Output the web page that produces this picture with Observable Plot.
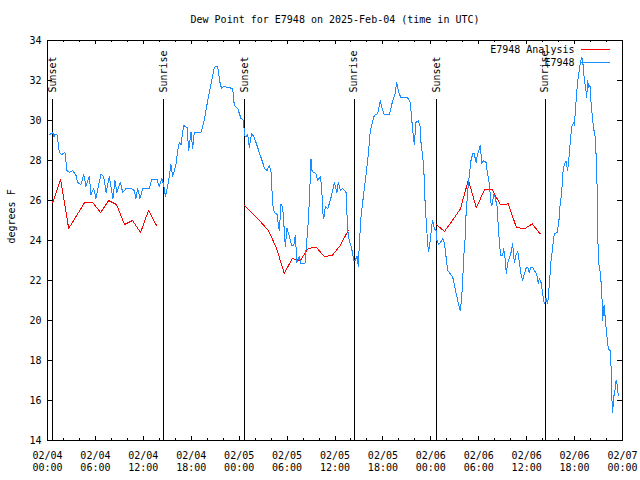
<!DOCTYPE html>
<html>
<head>
<meta charset="utf-8">
<script src="https://cdn.jsdelivr.net/npm/d3@7"></script>
<script src="https://cdn.jsdelivr.net/npm/@observablehq/plot@0.6"></script>
<style>
  html, body { margin: 0; padding: 0; background: #fff; }
</style>
</head>
<body>
<div id="chart"></div>
<script>
// ---- data (hours after 2025-02-04 00:00 UTC) ----
const title = "Dew Point for E7948 on 2025-Feb-04 (time in UTC)";
const yLabel = "degrees F";
const seriesNames = ["E7948 Analysis", "E7948"];
const seriesColors = ["#ff0000", "#1a8cff"];

const obsHours = [0.23,0.65,0.81,0.94,1.19,1.48,1.78,2.19,2.44,2.73,3.16,3.57,3.78,4.19,4.53,4.82,5.23,5.45,5.79,6.07,6.36,6.70,7.04,7.33,7.74,7.95,8.20,8.45,8.70,9.12,9.42,9.83,10.46,10.87,11.08,11.29,11.58,11.92,12.75,13.05,13.71,14.0,14.30,14.55,14.75,15.05,15.46,15.68,16.09,16.30,16.50,16.72,17.05,17.47,17.68,17.97,18.18,18.38,19.22,19.63,20.06,20.47,20.89,21.31,21.64,21.81,22.04,23.19,23.39,23.82,24.23,24.57,24.64,24.86,25.07,25.27,25.57,25.82,26.11,26.52,26.95,27.15,27.49,27.77,27.99,28.20,28.40,28.74,28.90,29.03,29.24,29.45,29.65,29.78,29.99,30.28,30.58,30.83,31.03,31.24,31.53,31.74,32.24,32.37,32.58,32.78,32.99,33.12,33.33,33.62,33.83,34.16,34.34,34.46,34.59,34.79,35.09,35.41,35.71,35.91,36.25,36.41,36.66,36.96,37.38,37.59,37.79,38.09,38.34,38.51,38.76,38.92,39.04,39.26,39.67,40.10,40.42,40.92,41.35,41.67,41.97,42.17,42.80,43.23,43.51,43.73,43.98,44.27,45.10,45.43,45.60,45.73,45.93,46.14,46.43,46.68,46.77,46.98,47.11,47.27,47.40,47.61,47.73,47.93,48.11,48.23,48.43,48.65,48.77,48.99,49.19,49.49,49.69,49.90,50.11,50.44,50.74,50.94,51.15,51.37,51.57,51.69,51.87,51.99,52.12,52.28,52.41,52.62,52.82,53.03,53.24,53.44,53.66,53.87,54.07,54.20,54.37,54.62,54.91,55.12,55.32,55.53,55.66,55.87,56.03,56.28,56.45,56.62,56.78,56.99,57.12,57.29,57.45,57.63,57.83,58.04,58.25,58.45,58.66,58.88,59.08,59.29,59.50,59.70,59.92,60.13,60.33,60.54,60.76,60.96,61.26,61.46,61.58,61.80,62.01,62.21,62.42,62.63,62.83,63.05,63.26,63.46,63.80,64.01,64.18,64.39,64.51,64.71,64.93,65.14,65.34,65.47,65.64,65.89,65.99,66.09,66.27,66.39,66.59,66.72,66.89,67.02,67.14,67.34,67.52,67.64,67.77,67.93,68.06,68.27,68.39,68.56,68.77,68.89,68.97,69.22,69.40,69.52,69.65,69.72,69.81,69.94,70.06,70.22,70.47,70.56,70.65,70.77,70.90,71.06,71.19,71.31,71.48];
const obsDew = [29.28,29.4,29.2,29.3,29.3,28.4,28.3,28.4,27.5,27.4,27.5,27.25,26.9,26.8,27.3,26.7,27.2,26.3,26.6,26.1,26.7,27.3,27.2,26.4,27.2,26.7,26.1,27.0,26.4,26.9,26.4,26.6,26.6,26.5,26.1,26.6,26.1,26.6,26.6,27.05,27.05,26.7,27.1,26.8,26.2,26.7,27.8,27.2,27.8,28.5,28.9,28.8,29.75,29.65,28.5,29.4,28.6,29.4,29.4,30.0,31.0,31.8,32.67,32.7,31.8,31.6,31.7,31.6,30.75,30.6,30.1,30.0,29.25,29.2,29.3,28.67,29.35,29.2,28.9,28.4,27.9,27.6,27.5,27.75,27.4,25.8,25.4,25.3,24.8,24.5,25.8,25.65,24.5,23.7,24.6,24.2,23.75,23.75,24.25,22.9,23.2,22.83,22.83,23.5,24.5,25.9,28.08,27.5,27.4,27.35,27.0,27.2,26.6,25.4,25.1,25.7,25.6,26.0,26.5,26.9,26.4,26.9,26.5,26.6,26.4,24.5,24.0,23.6,23.0,23.0,23.2,22.7,23.75,25.2,26.6,28.0,29.5,30.25,30.35,31.0,30.5,30.3,30.3,31.0,31.3,31.9,31.4,31.13,31.13,30.9,30.1,29.5,28.8,29.9,30.0,29.7,28.9,28.2,27.67,26.0,25.1,23.8,23.45,24.0,24.75,25.0,24.6,24.5,24.0,23.8,23.9,24.08,23.9,23.2,22.5,22.33,22.17,21.8,21.4,21.0,20.67,20.5,21.2,22.0,23.2,24.0,25.3,26.5,27.3,28.0,28.33,28.33,27.9,28.33,28.58,28.75,27.85,28.0,27.9,27.3,26.83,25.9,25.75,26.3,26.17,25.75,24.67,23.67,23.25,23.25,23.6,23.1,22.33,22.9,23.1,23.4,23.83,22.9,23.25,23.47,22.9,22.33,22.0,22.33,22.6,22.67,22.4,22.67,22.67,22.5,22.33,21.83,22.1,21.9,21.33,20.83,21.1,20.83,21.75,23.0,23.67,24.33,24.4,24.83,25.75,26.4,27.3,27.8,27.95,27.5,28.33,29.0,29.67,29.9,29.75,30.5,31.4,32.0,32.5,32.9,33.17,33.0,32.33,31.75,31.17,32.0,31.67,31.75,30.9,30.0,29.6,29.2,27.75,24.83,23.0,22.4,21.5,20.0,20.67,20.75,20.25,19.67,19.17,18.58,18.5,17.75,16.25,15.42,16.17,16.5,17.0,16.83,16.25];

const anaHours = [0.65,1.65,2.65,3.65,4.65,5.65,6.65,7.65,8.65,9.65,10.65,11.65,12.65,13.65,
                  24.65,25.65,26.65,27.65,28.65,29.65,30.65,31.65,32.65,33.65,34.65,35.65,36.65,37.65,
                  48.7,49.7,50.7,51.7,52.7,53.7,54.7,55.7,56.7,57.7,58.7,59.7,60.7,61.7];
const anaNight = [1,1,1,1,1,1,1,1,1,1,1,1,1,1,
                  2,2,2,2,2,2,2,2,2,2,2,2,2,2,
                  3,3,3,3,3,3,3,3,3,3,3,3,3,3];
const anaDew = [25.9,27.05,24.6,25.25,25.9,25.9,25.4,26.0,25.8,24.8,25.0,24.4,25.5,24.75,
                25.75,25.35,24.95,24.5,23.65,22.35,23.1,23.0,23.6,23.67,23.2,23.25,23.75,24.5,
                24.8,24.45,25.0,25.58,27.03,25.63,26.53,26.53,25.8,25.83,24.67,24.58,24.83,24.33];

const eventHours = [0.65, 14.5, 24.65, 38.4, 48.7, 62.3];
const eventLabels = ["Sunset", "Sunrise", "Sunset", "Sunrise", "Sunset", "Sunrise"];

const majorTickHours = [0,6,12,18,24,30,36,42,48,54,60,66,72];
const minorTickHours = [2,4,8,10,14,16,20,22,26,28,32,34,38,40,44,46,50,52,56,58,62,64,68,70];
const yTicks = [14,16,18,20,22,24,26,28,30,32,34];

// ---- build tables ----
const base = Date.UTC(2025, 1, 4);
const toDate = h => new Date(base + h * 3600e3);
const obs = obsHours.map((h, i) => ({t: toDate(h), v: obsDew[i]}));
const ana = anaHours.map((h, i) => ({t: toDate(h), v: anaDew[i], n: anaNight[i]}));
const events = eventHours.map((h, i) => ({t: toDate(h), label: eventLabels[i]}));
const majors = majorTickHours.map(toDate);
const minors = minorTickHours.map(toDate);

const W = 640, H = 480, mL = 47, mR = 18, mT = 40, mB = 40;
const innerW = W - mL - mR, innerH = H - mT - mB;
const fmt = d3.utcFormat("%m/%d\n%H:%M");

const chart = Plot.plot({
  width: W, height: H,
  marginLeft: mL, marginRight: mR, marginTop: mT, marginBottom: mB,
  style: {fontFamily: "'DejaVu Sans Mono', monospace", fontSize: "10px", background: "#fff", color: "#000"},
  x: {type: "utc", domain: [toDate(0), toDate(72)], axis: null},
  y: {domain: [14, 34], axis: null},
  marks: [
    // event lines and labels
    Plot.ruleX(events, {x: "t", insetTop: 59, stroke: "#000", strokeWidth: 1}),
    Plot.text(events, {x: "t", text: "label", frameAnchor: "top", lineAnchor: "middle", dy: 52, rotate: -90, textAnchor: "start", fill: "#000"}),
    // series
    Plot.line(ana, {x: "t", y: "v", z: "n", stroke: seriesColors[0], strokeWidth: 1}),
    Plot.line(obs, {x: "t", y: "v", stroke: seriesColors[1], strokeWidth: 1}),
    // frame
    Plot.frame({stroke: "#000", strokeWidth: 1}),
    // ticks (inward)
    Plot.tickX(majors, {x: d => d, insetTop: innerH - 4, stroke: "#000"}),
    Plot.tickX(majors, {x: d => d, insetBottom: innerH - 4, stroke: "#000"}),
    Plot.tickX(minors, {x: d => d, insetTop: innerH - 2, stroke: "#000"}),
    Plot.tickX(minors, {x: d => d, insetBottom: innerH - 2, stroke: "#000"}),
    Plot.tickY(yTicks, {y: d => d, insetRight: innerW - 5, stroke: "#000"}),
    Plot.tickY(yTicks, {y: d => d, insetLeft: innerW - 5, stroke: "#000"}),
    // tick labels
    Plot.axisX({ticks: majors, tickSize: 0, tickPadding: 10, tickFormat: fmt, lineHeight: 1.2, label: null}),
    Plot.axisY({ticks: yTicks, tickSize: 0, tickPadding: 6, label: null}),
    // titles
    Plot.text([title], {text: d => d, frameAnchor: "top", lineAnchor: "middle", dy: -21}),
    Plot.text([yLabel], {text: d => d, frameAnchor: "left", dx: -36, dy: 3, rotate: -90}),
    // legend text
    Plot.text([seriesNames[0]], {text: d => d, frameAnchor: "top-right", lineAnchor: "middle", dx: -48, dy: 9, textAnchor: "end"}),
    Plot.text([seriesNames[1]], {text: d => d, frameAnchor: "top-right", lineAnchor: "middle", dx: -48, dy: 22, textAnchor: "end"})
  ]
});

// legend line samples
const svg = d3.select(chart);
svg.style("shape-rendering", "crispEdges");
[0, 1].forEach(i => {
  svg.append("line")
    .attr("x1", W - mR - 41).attr("x2", W - mR - 12)
    .attr("y1", mT + 9 + i * 13).attr("y2", mT + 9 + i * 13)
    .attr("stroke", seriesColors[i]).attr("stroke-width", 1);
});

document.getElementById("chart").appendChild(chart);
</script>
</body>
</html>
